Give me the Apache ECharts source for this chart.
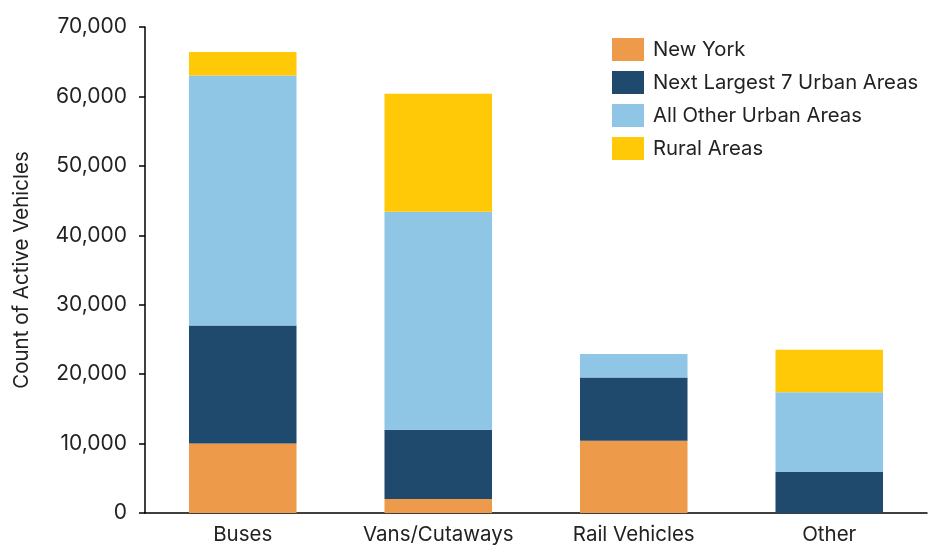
<!DOCTYPE html>
<html><head><meta charset="utf-8">
<script src="https://cdn.jsdelivr.net/npm/echarts@6/dist/echarts.min.js"></script>
<style>html,body{margin:0;padding:0;background:#fff}#c{width:940px;height:560px}</style>
</head><body><div id="c"></div>
<script>
const categories = ['Buses', 'Vans/Cutaways', 'Rail Vehicles', 'Other'];
const newYork = [10000, 2000, 10400, 0];
const next7Urban = [17000, 10000, 9100, 5900];
const otherUrban = [36000, 31400, 3400, 11500];
const rural = [3400, 17000, 0, 6100];
const seriesNames = ['New York', 'Next Largest 7 Urban Areas', 'All Other Urban Areas', 'Rural Areas'];
const colors = ['#ED9A4B', '#1F4A6E', '#8FC6E5', '#FFC907'];
const font = 'Inter, "Open Sans", sans-serif';
const chart = echarts.init(document.getElementById('c'));
const data = [newYork, next7Urban, otherUrban, rural];
chart.setOption({
  animation: false,
  grid: {left: 145, right: 13, top: 27, bottom: 47},
  legend: {
    orient: 'vertical', left: 607, top: 33,
    icon: 'rect',
    itemWidth: 32, itemHeight: 23, itemGap: 10,
    textStyle: {fontFamily: font, fontSize: 20.3, color: '#222', padding: [0, 0, 0, 4]},
    data: seriesNames
  },
  xAxis: {
    type: 'category', data: categories,
    axisLine: {lineStyle: {color: '#000', width: 1.5}},
    axisTick: {show: false},
    axisLabel: {fontFamily: font, fontSize: 20.5, color: '#222', margin: 11, interval: 0, hideOverlap: false}
  },
  yAxis: {
    type: 'value', min: 0, max: 70000, interval: 10000,
    name: 'Count of Active Vehicles', nameLocation: 'middle', nameGap: 113,
    nameTextStyle: {fontFamily: font, fontSize: 20.5, color: '#222'},
    splitLine: {show: false},
    axisLine: {show: true, lineStyle: {color: '#000', width: 1.5}},
    axisTick: {show: true, length: 6, lineStyle: {color: '#000', width: 1.5}},
    axisLabel: {fontFamily: font, fontSize: 21, color: '#222', margin: 18,
      formatter: v => v.toLocaleString('en-US')}
  },
  series: seriesNames.map((n, i) => ({
    name: n, type: 'bar', stack: 'total', barWidth: '55%',
    itemStyle: {color: colors[i]},
    data: data[i]
  }))
});
</script></body></html>
